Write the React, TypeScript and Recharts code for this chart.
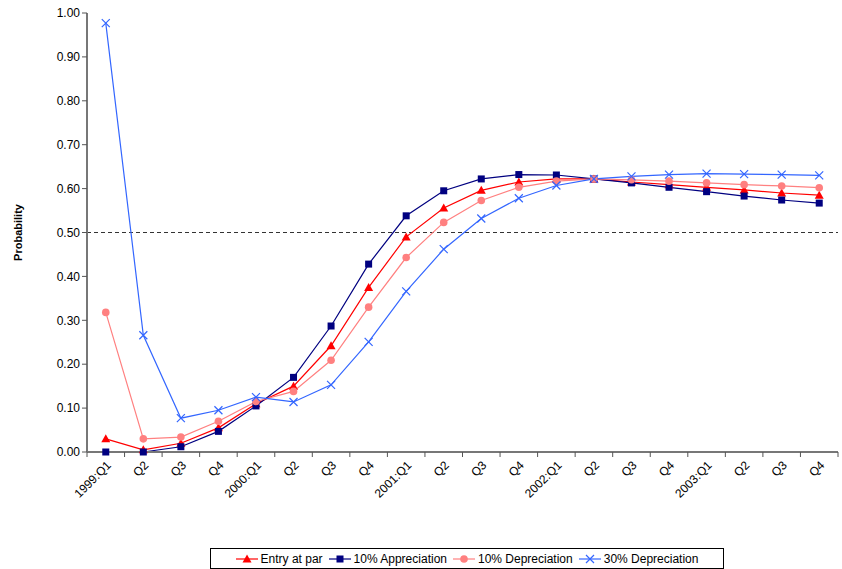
import {
  LineChart,
  Line,
  XAxis,
  YAxis,
  ReferenceLine,
  Legend,
} from 'recharts'

const quarters = [
  '1999:Q1', 'Q2', 'Q3', 'Q4',
  '2000:Q1', 'Q2', 'Q3', 'Q4',
  '2001:Q1', 'Q2', 'Q3', 'Q4',
  '2002:Q1', 'Q2', 'Q3', 'Q4',
  '2003:Q1', 'Q2', 'Q3', 'Q4',
]

const entryAtPar = [
  0.03, 0.005, 0.02, 0.055, 0.11, 0.15, 0.242, 0.375, 0.49, 0.556,
  0.596, 0.615, 0.622, 0.622, 0.615, 0.609, 0.603, 0.597, 0.59, 0.585,
]
const appreciation10 = [
  0.0, 0.0, 0.012, 0.047, 0.105, 0.17, 0.287, 0.428, 0.538, 0.595,
  0.622, 0.632, 0.631, 0.622, 0.613, 0.603, 0.593, 0.583, 0.574, 0.567,
]
const depreciation10 = [
  0.318, 0.03, 0.034, 0.07, 0.115, 0.138, 0.209, 0.33, 0.443, 0.523,
  0.573, 0.603, 0.617, 0.622, 0.62, 0.617, 0.613, 0.609, 0.606, 0.602,
]
const depreciation30 = [
  0.977, 0.266, 0.077, 0.095, 0.125, 0.114, 0.153, 0.251, 0.366, 0.462,
  0.532, 0.578, 0.607, 0.622, 0.628, 0.632, 0.634, 0.633, 0.632, 0.63,
]

const yTicks = [0, 0.1, 0.2, 0.3, 0.4, 0.5, 0.6, 0.7, 0.8, 0.9, 1.0]

const data = quarters.map((q, i) => ({
  q,
  par: entryAtPar[i],
  app10: appreciation10[i],
  dep10: depreciation10[i],
  dep30: depreciation30[i],
}))

const series = [
  { key: 'par', name: 'Entry at par', color: '#FF0000', marker: 'triangle' },
  { key: 'app10', name: '10% Appreciation', color: '#000080', marker: 'square' },
  { key: 'dep10', name: '10% Depreciation', color: '#FF8080', marker: 'circle' },
  { key: 'dep30', name: '30% Depreciation', color: '#3366FF', marker: 'cross' },
]

const FONT = '"Liberation Sans", Arial, sans-serif'
const PLOT_W = 751
const BAND = PLOT_W / quarters.length

function Marker({ type, cx, cy, color }: { type: string; cx: number; cy: number; color: string }) {
  if (cx == null || cy == null) return null
  if (type === 'square') {
    return <rect x={cx - 3.5} y={cy - 3.5} width={7} height={7} fill={color} />
  }
  if (type === 'triangle') {
    return <path d={`M${cx},${cy - 4.5} L${cx + 4.5},${cy + 3.5} L${cx - 4.5},${cy + 3.5} Z`} fill={color} />
  }
  if (type === 'circle') {
    return <circle cx={cx} cy={cy} r={3.8} fill={color} />
  }
  return (
    <path
      d={`M${cx - 4},${cy - 4} L${cx + 4},${cy + 4} M${cx - 4},${cy + 4} L${cx + 4},${cy - 4}`}
      stroke={color}
      strokeWidth={1.2}
      fill="none"
    />
  )
}

function XTick({ x, y, payload, index }: any) {
  const isLast = index === quarters.length - 1
  return (
    <g>
      <line x1={x - BAND / 2} x2={x - BAND / 2} y1={y} y2={y + 5} stroke="#555" strokeWidth={1} />
      {isLast && <line x1={x + BAND / 2} x2={x + BAND / 2} y1={y} y2={y + 5} stroke="#555" strokeWidth={1} />}
      <text
        x={x + 6}
        y={y + 14}
        textAnchor="end"
        transform={`rotate(-45, ${x + 6}, ${y + 14})`}
        fontSize={12}
        fontFamily={FONT}
        fill="#000"
      >
        {payload.value}
      </text>
    </g>
  )
}

function ChartLegend() {
  return (
    <div style={{ height: 42, position: 'relative' }}>
      <div
        style={{
          position: 'absolute',
          left: 210,
          top: 21,
          width: 512,
          height: 19,
          border: '1px solid #000',
          display: 'flex',
          alignItems: 'center',
          justifyContent: 'center',
          gap: 6,
          fontFamily: FONT,
          fontSize: 12,
          color: '#000',
          background: '#fff',
        }}
      >
        {series.map((s) => (
          <span key={s.key} style={{ display: 'inline-flex', alignItems: 'center' }}>
            <svg width={22} height={12} style={{ marginRight: 3 }}>
              <line x1={0} x2={22} y1={6} y2={6} stroke={s.color} strokeWidth={1.2} />
              <Marker type={s.marker} cx={11} cy={6} color={s.color} />
            </svg>
            {s.name}
          </span>
        ))}
      </div>
    </div>
  )
}

export default function App() {
  return (
    <div style={{ position: 'absolute', left: 0, top: 0, width: 842, height: 569, background: '#fff' }}>
      <LineChart
        width={842}
        height={569}
        data={data}
        margin={{ top: 13, right: 4, bottom: 0, left: 0 }}
      >
        <XAxis
          dataKey="q"
          interval={0}
          height={75}
          padding={{ left: BAND / 2, right: BAND / 2 }}
          tickLine={false}
          tickSize={0}
          tickMargin={0}
          axisLine={{ stroke: '#777', strokeWidth: 2 }}
          tick={<XTick />}
        />
        <YAxis
          domain={[0, 1]}
          ticks={yTicks}
          width={87}
          tickFormatter={(v: number) => v.toFixed(2)}
          tick={{ fontSize: 12, fontFamily: FONT, fill: '#000' }}
          tickSize={5}
          tickLine={{ stroke: '#555' }}
          axisLine={{ stroke: '#777', strokeWidth: 2 }}
          label={{
            value: 'Probability',
            angle: -90,
            position: 'insideLeft',
            offset: 18,
            style: { fontSize: 11, fontWeight: 'bold', fontFamily: FONT, fill: '#000', textAnchor: 'middle' },
          }}
        />
        <ReferenceLine y={0.5} stroke="#333" strokeDasharray="4 3" strokeWidth={1} />
        {series.map((s) => (
          <Line
            key={s.key}
            type="linear"
            dataKey={s.key}
            name={s.name}
            stroke={s.color}
            strokeWidth={1.2}
            isAnimationActive={false}
            activeDot={false}
            dot={(p: any) => (
              <Marker key={`${s.key}-${p.index}`} type={s.marker} cx={p.cx} cy={p.cy} color={s.color} />
            )}
          />
        ))}
        <Legend verticalAlign="bottom" content={<ChartLegend />} wrapperStyle={{ left: 0, width: 842 }} />
      </LineChart>
    </div>
  )
}
